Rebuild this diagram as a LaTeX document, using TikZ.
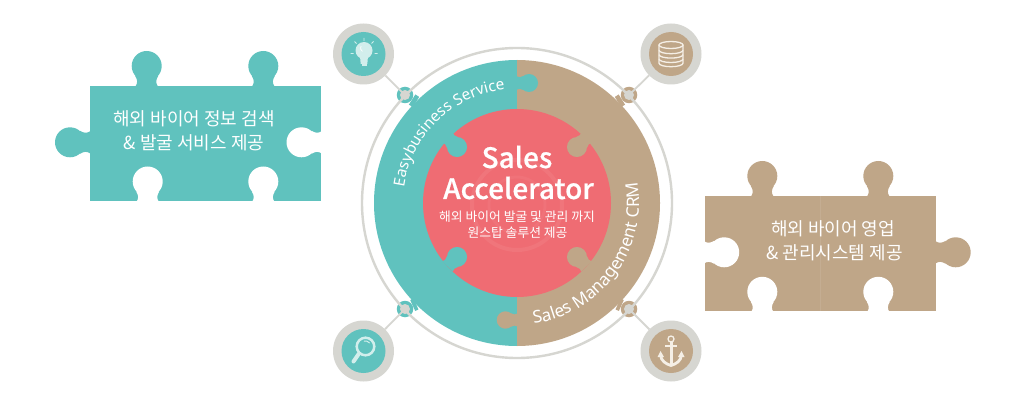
\documentclass[tikz,border=0pt]{standalone}
\usepackage{fontspec}
\setmainfont{Noto Sans CJK KR}
\newfontfamily\medfont[FakeBold=0.6]{Noto Sans CJK KR Medium}
\newfontfamily\arcfont{Noto Sans}
\usetikzlibrary{decorations.text}
\definecolor{cteal}{HTML}{60C2BE}
\definecolor{ctan}{HTML}{BFA688}
\definecolor{cpink}{HTML}{EF6C73}
\definecolor{cgray}{HTML}{D6D6D1}
\definecolor{cpale}{HTML}{D2EEEC}
\definecolor{ccream}{HTML}{F5EFE6}
\tikzset{
  iconouter/.style={circle,fill=cgray,minimum size=61pt,inner sep=0pt},
  icontealdisc/.style={circle,fill=cteal,minimum size=44pt,inner sep=0pt},
  icontandisc/.style={circle,fill=ctan,minimum size=44pt,inner sep=0pt},
  dotcore/.style={circle,fill=cgray,minimum size=10pt,inner sep=0pt},
  dotteal/.style={circle,fill=cteal,minimum size=16.5pt,inner sep=0pt},
  dottan/.style={circle,fill=ctan,minimum size=16.5pt,inner sep=0pt},
  link/.style={draw=cgray,line width=1.8pt},
  ringline/.style={draw=cgray,line width=2.4pt},
  joint/.style={line width=12pt},
  lbl/.style={text=white,inner sep=0pt,font=\fontsize{18}{18}\selectfont},
  sublbl/.style={text=white,inner sep=0pt,font=\fontsize{12.8}{13}\selectfont},
  biglbl/.style={text=white,inner sep=0pt,font=\fontsize{28}{29}\selectfont\medfont},
}
% knob: #1 base point, #2 rotation, #3 scale, #4 colour
\newcommand{\knob}[4]{%
  \begin{scope}[shift={#1},rotate=#2,scale=#3]
    \fill[#4] (0,20) circle[radius=15];
    \fill[#4] (-11,0) .. controls (-9,3) and (-9,6) .. (-11.5,10) -- (11.5,10) .. controls (9,6) and (9,3) .. (11,0) -- cycle;
  \end{scope}}
\begin{document}
\begin{tikzpicture}[x=1pt,y=1pt]
\useasboundingbox (0,0) rectangle (1024,-406);
\fill[white] (0,0) rectangle (1024,-406);
% left puzzle
\fill[cteal] (90,-86) rectangle (321,-201);
\knob{(146.7,-86)}{0}{1}{cteal}
\knob{(263.3,-86)}{0}{1}{cteal}
\knob{(90,-142.3)}{90}{1}{cteal}
\knob{(321.5,-142.3)}{90}{1}{white}
\knob{(147.7,-201.5)}{0}{1}{white}
\knob{(263.3,-201.5)}{0}{1}{white}
\node[lbl] (lefta) at (194,-119) {해외 바이어 정보 검색};
\node[lbl] (leftb) at (194,-143) {\& 발굴 서비스 제공};
% right puzzle
\fill[ctan] (704.7,-196) rectangle (935.7,-311.3);
\knob{(762.3,-196)}{0}{1}{ctan}
\knob{(878.3,-196)}{0}{1}{ctan}
\knob{(935.7,-252.3)}{-90}{1}{ctan}
\knob{(704.2,-252.3)}{-90}{1}{white}
\knob{(762.3,-311.8)}{0}{1}{white}
\knob{(878.3,-311.8)}{0}{1}{white}
\draw[ctan!92!white,line width=0.6pt] (820,-196) -- (820,-311.3);
\node[lbl] (righta) at (833,-229) {해외 바이어 영업};
\node[lbl] (rightb) at (834.5,-253) {\& 관리시스템 제공};
% disc halves
\fill[cteal] (517,-60) arc[start angle=90,end angle=270,radius=143] -- cycle;
\fill[ctan] (517,-60) arc[start angle=90,end angle=-90,radius=143] -- cycle;
\knob{(517,-83)}{-90}{0.6}{cteal}
\knob{(517,-320)}{90}{0.58}{ctan}
% spokes
\coordinate (sa) at (416,-102);
\coordinate (sb) at (618,-102);
\coordinate (sc) at (416,-304);
\coordinate (sd) at (618,-304);
\node[dotteal] (da) at (405,-95) {};
\node[dottan]  (db) at (629,-95) {};
\node[dotteal] (dc) at (405,-309) {};
\node[dottan]  (dd) at (629,-309) {};
\draw[cteal,joint] (sa) -- (da);
\draw[ctan,joint] (sb) -- (db);
\draw[cteal,joint] (sc) -- (dc);
\draw[ctan,joint] (sd) -- (dd);
% outer ring
\draw[ringline] (517,-203) circle[radius=155];
% pink centre
\fill[cpink] (517,-203) circle[radius=94];
\draw[cpink!94!white,line width=4pt] (517,-205) circle[radius=45];
\draw[cpink!96!white,line width=3pt] (517,-205) circle[radius=28];
\knob{(447.6,-137.6)}{-135}{0.667}{cteal}
\knob{(586.4,-137.6)}{135}{0.667}{ctan}
\knob{(447.6,-266.4)}{-45}{0.667}{cteal}
\knob{(586.4,-266.4)}{45}{0.667}{ctan}
% icons
\node[iconouter] (ia) at (363.5,-54) {};
\node[iconouter] (ib) at (671,-54) {};
\node[iconouter] (ic) at (363.5,-351) {};
\node[iconouter] (id) at (671,-351) {};
\draw[link] (ia) -- (da.center);
\draw[link] (ib) -- (db.center);
\draw[link] (ic) -- (dc.center);
\draw[link] (id) -- (dd.center);
\node[dotcore] at (da) {};
\node[dotcore] at (db) {};
\node[dotcore] at (dc) {};
\node[dotcore] at (dd) {};
\node[icontealdisc] at (ia) {};
\node[icontandisc] at (ib) {};
\node[icontealdisc] at (ic) {};
\node[icontandisc] at (id) {};
% bulb
\fill[cpale] (364,-50.5) circle[radius=8.5];
\fill[cpale] (360,-56) -- (368,-56) -- (367.3,-64) -- (360.7,-64) -- cycle;
\fill[cpale] (361.5,-64.5) rectangle (366.5,-66.5);
\draw[white,line width=0.7pt] (361,-46) arc[start angle=150,end angle=240,radius=4];
\draw[cpale,line width=0.9pt] (364,-38) -- (364,-41)
  (354.5,-41.5) -- (356.5,-43.5) (373.5,-41.5) -- (371.5,-43.5)
  (350.5,-53.5) -- (353.5,-53.5) (377.5,-53.5) -- (374.5,-53.5);
% database
\begin{scope}[ccream,line width=1.3pt]
  \draw (671,-45) ellipse[x radius=12,y radius=3.5];
  \draw (659,-45) -- (659,-63.2) arc[start angle=180,end angle=360,x radius=12,y radius=3.5] -- (683,-45);
  \draw (659,-50.2) arc[start angle=180,end angle=360,x radius=12,y radius=3.5];
  \draw (659,-54.6) arc[start angle=180,end angle=360,x radius=12,y radius=3.5];
  \draw (659,-59) arc[start angle=180,end angle=360,x radius=12,y radius=3.5];
\end{scope}
% magnifier
\draw[cpale,line width=2.5pt] (365.5,-346.5) circle[radius=8.8];
\draw[cpale,line width=1pt] (364,-341) arc[start angle=100,end angle=40,radius=6];
\draw[cpale,line width=4pt,line cap=round] (359,-353.5) -- (353.5,-361.5);
% anchor
\begin{scope}[ccream]
  \draw[line width=1.3pt] (671,-339) circle[radius=3];
  \draw[line width=3pt] (671,-342) -- (671,-364);
  \draw[line width=2.2pt] (665,-346.3) -- (677,-346.3);
  \draw[line width=2.8pt] (660.5,-355) .. controls (661,-361) and (666,-364) .. (671,-365.5) .. controls (676,-364) and (681,-361) .. (681.5,-355);
  \fill (657.5,-357) -- (660.5,-351) -- (664,-357) -- cycle;
  \fill (684.5,-357) -- (681.5,-351) -- (678,-357) -- cycle;
\end{scope}
% centre text
\node[biglbl] (sales) at (517,-157) {Sales};
\node[biglbl] (accel) at (518.5,-188) {Accelerator};
\node[sublbl] (suba) at (517,-216.5) {해외 바이어 발굴 및 관리 까지};
\node[sublbl] (subb) at (517.5,-233) {원스탑 솔루션 제공};
% arc text
\path[decorate,decoration={text along path,text align=center,
  text={|\arcfont\fontsize{15.4}{16}\selectfont\color{white}|Easybusiness Service}}]
  ([shift={(517,-203)}]176:114) arc[start angle=176,end angle=92,radius=114];
\path[decorate,decoration={text along path,text align=center,
  text={|\arcfont\fontsize{17.2}{17}\selectfont\color{white}|Sales Management CRM}}]
  ([shift={(517,-203)}]-84:122) arc[start angle=-84,end angle=12,radius=122];
\end{tikzpicture}
\end{document}
